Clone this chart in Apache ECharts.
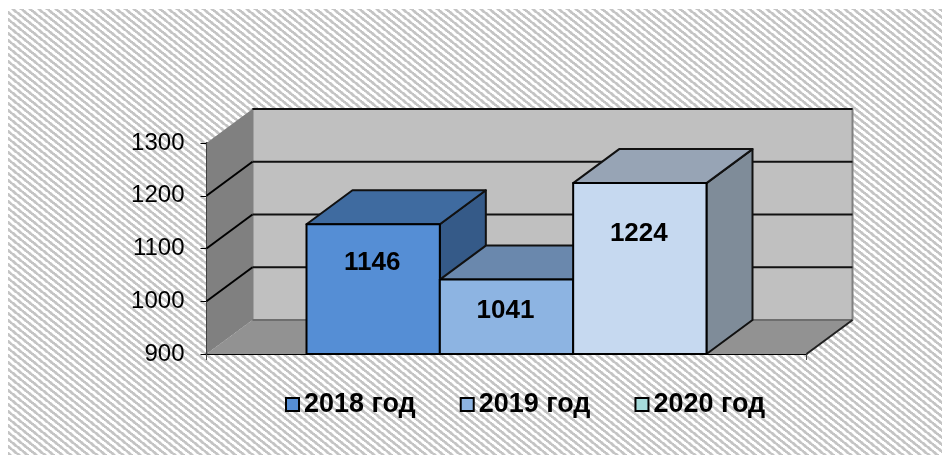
<!DOCTYPE html>
<html>
<head>
    <meta charset="UTF-8">
    <title>2018-2020</title>
    <script src="https://cdn.jsdelivr.net/npm/echarts@6/dist/echarts.min.js"></script>
    <style>
        html, body { margin: 0; padding: 0; background: #fff; }
        #chart { width: 942px; height: 455px; }
    </style>
</head>
<body>
<div id="chart"></div>
<script type="text/javascript">
    // data
    var categories = [''];
    var seriesNames = ['2018 год', '2019 год', '2020 год'];
    var seriesValues = [1146, 1041, 1224];
    var yTicks = [900, 1000, 1100, 1200, 1300];

    // colours and sizes
    var legendColors = ['#558ed5', '#8db4e2', '#a6dcdc'];
    var frontColors = ['#558ed5', '#8db4e2', '#c6d9f0'];
    var topColors = ['#3f6ba0', '#6a88ad', '#97a4b5'];
    var sideColors = ['#355a88', '#5f7ba0', '#7f8c99'];
    var labelDrop = [39, 31, 51];
    var depthX = 46, depthY = -34;
    var fontName = '"Liberation Sans", Arial, sans-serif';

    // tile holds 3 periods across (26px) and 3 down (21px)
    function hatchTile() {
        var c = document.createElement('canvas');
        c.width = 26;
        c.height = 21;
        var ctx = c.getContext('2d');
        for (var x = 0; x < 26; x++) {
            for (var y = 0; y < 21; y++) {
                var phase = ((x * 3 / 26 - y * 3 / 21) % 1 + 1) % 1;
                var shade = phase < 0.38 ? 196 : (phase < 0.48 || phase > 0.9 ? 226 : 255);
                ctx.fillStyle = 'rgb(' + shade + ',' + shade + ',' + shade + ')';
                ctx.fillRect(x, y, 1, 1);
            }
        }
        return c;
    }

    function poly(points, fill, stroke, width) {
        return {
            type: 'polygon',
            shape: { points: points },
            style: { fill: fill, stroke: stroke, lineWidth: width, lineJoin: 'round' }
        };
    }

    function line(x1, y1, x2, y2, stroke, width) {
        return {
            type: 'line',
            shape: { x1: x1, y1: y1, x2: x2, y2: y2 },
            style: { stroke: stroke, lineWidth: width }
        };
    }

    // back wall, side wall, floor and gridlines
    function renderWalls(params, api) {
        var band = api.size([1, 0])[0];
        var cx = api.coord([0, yTicks[0]])[0];
        var x0 = cx - band / 2, x1 = cx + band / 2;
        var yBottom = api.coord([0, yTicks[0]])[1];
        var yTop = api.coord([0, yTicks[yTicks.length - 1]])[1];
        var children = [
            poly([[x0 + depthX, yTop + depthY], [x1 + depthX, yTop + depthY], [x1 + depthX, yBottom + depthY], [x0 + depthX, yBottom + depthY]], '#c0c0c0', '#808080', 2),
            poly([[x0, yTop], [x0 + depthX, yTop + depthY], [x0 + depthX, yBottom + depthY], [x0, yBottom]], '#808080', null, 0),
            poly([[x0, yBottom], [x0 + depthX, yBottom + depthY], [x1 + depthX, yBottom + depthY], [x1, yBottom]], '#929292', null, 0),
            line(x0 + depthX, yBottom + depthY, x1 + depthX, yBottom + depthY, '#6e6e6e', 2),
            line(x1, yBottom, x1 + depthX, yBottom + depthY, '#202020', 2)
        ];
        yTicks.slice(1).forEach(function (t, i) {
            var y = api.coord([0, t])[1];
            if (i < yTicks.length - 2) {
                children.push(line(x0, y, x0 + depthX, y + depthY, '#000', 2));
            }
            children.push(line(x0 + depthX, y + depthY, x1 + depthX, y + depthY, '#111', 2));
        });
        return { type: 'group', children: children };
    }

    // one 3d bar, its place in the band comes from the series index
    function renderBar(idx) {
        return function (params, api) {
            var band = api.size([1, 0])[0];
            var barW = band / (seriesValues.length + 1.5);
            var base = api.coord([0, yTicks[0]]);
            var top = api.coord([0, api.value(1)]);
            var left = base[0] - band / 2 + barW * 0.75 + barW * idx;
            var right = left + barW;
            return {
                type: 'group',
                children: [
                    poly([[right, top[1]], [right + depthX, top[1] + depthY], [right + depthX, base[1] + depthY], [right, base[1]]], sideColors[idx], '#111', 2),
                    poly([[left, top[1]], [left + depthX, top[1] + depthY], [right + depthX, top[1] + depthY], [right, top[1]]], topColors[idx], '#111', 2),
                    poly([[left, top[1]], [right, top[1]], [right, base[1]], [left, base[1]]], frontColors[idx], '#000', 2),
                    {
                        type: 'text',
                        style: {
                            x: (left + right) / 2 - 1,
                            y: top[1] + labelDrop[idx],
                            text: String(api.value(1)),
                            fill: '#000',
                            font: 'bold 26px ' + fontName,
                            align: 'center',
                            verticalAlign: 'middle'
                        }
                    }
                ]
            };
        };
    }

    var series = [{
        type: 'custom',
        silent: true,
        renderItem: renderWalls,
        data: [[0, yTicks[0]]],
        z: 1
    }];
    seriesNames.forEach(function (name, i) {
        series.push({
            name: name,
            type: 'custom',
            renderItem: renderBar(i),
            itemStyle: { color: legendColors[i] },
            data: [[0, seriesValues[i]]],
            z: 2 + i
        });
    });

    var option = {
        animation: false,
        graphic: [{
            type: 'rect',
            z: -10,
            shape: { x: 8, y: 9, width: 934, height: 446 },
            style: { fill: { image: hatchTile(), repeat: 'repeat' } }
        }],
        grid: { left: 206.5, right: 135.5, top: 143, bottom: 101 },
        legend: {
            left: 285,
            top: 391,
            padding: 0,
            icon: 'rect',
            itemWidth: 13,
            itemHeight: 13,
            itemGap: 44,
            data: seriesNames,
            selectedMode: false,
            itemStyle: { borderColor: '#000', borderWidth: 2 },
            textStyle: { color: '#000', fontFamily: fontName, fontWeight: 'bold', fontSize: 27 }
        },
        xAxis: {
            type: 'category',
            data: categories,
            axisLine: { lineStyle: { color: '#000', width: 2 } },
            axisTick: { show: true, length: 6, lineStyle: { color: '#444', width: 1 } },
            axisLabel: { show: false },
            splitLine: { show: false }
        },
        yAxis: {
            type: 'value',
            min: 900,
            max: 1300,
            interval: 100,
            axisLine: { show: true, lineStyle: { color: '#000', width: 2 } },
            axisTick: { show: true, length: 6, lineStyle: { color: '#000', width: 1 } },
            axisLabel: { color: '#000', fontFamily: fontName, fontSize: 24, margin: 22, padding: [6, 0, 0, 0], formatter: function (v) { return String(v); } },
            splitLine: { show: false }
        },
        series: series
    };

    var myChart = echarts.init(document.getElementById('chart'));
    myChart.setOption(option);
</script>
</body>
</html>
